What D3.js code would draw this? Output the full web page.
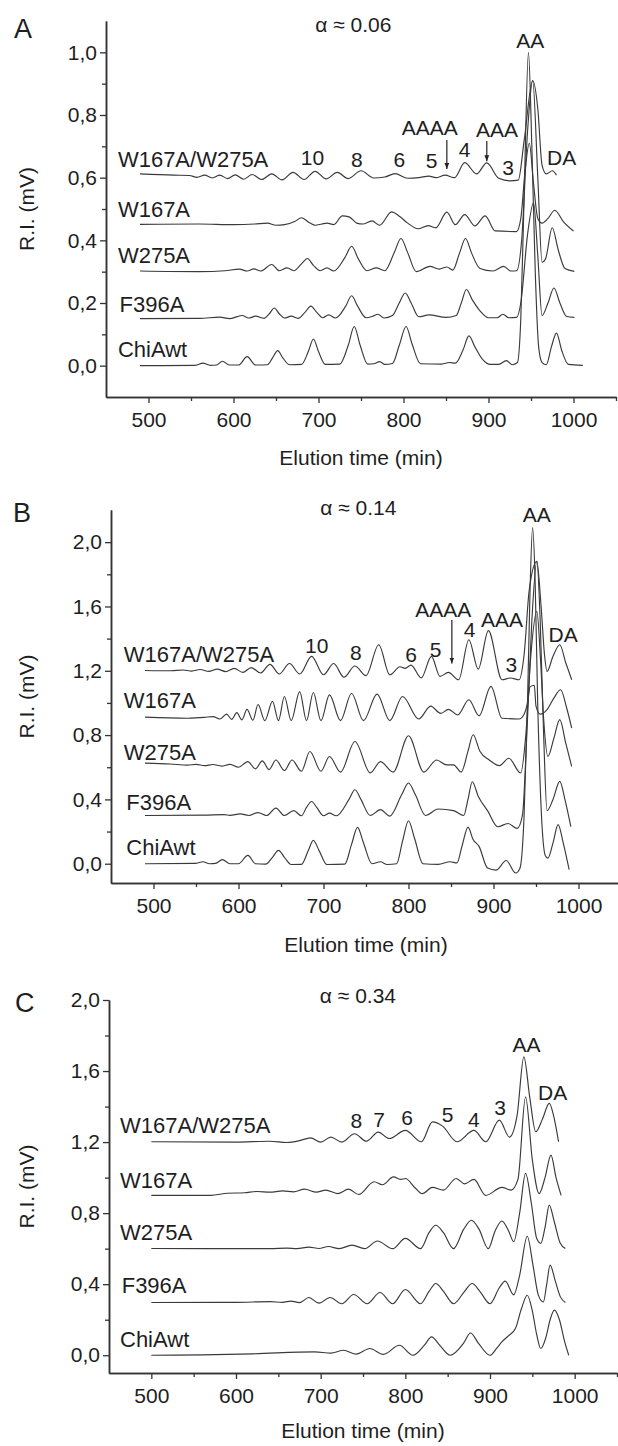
<!DOCTYPE html>
<html><head><meta charset="utf-8">
<script src="https://cdn.jsdelivr.net/npm/d3@7"></script>
<style>
body{margin:0;background:#fff;}
svg text{font-family:"Liberation Sans", Arial, Helvetica, sans-serif; fill:#1e1e1e;}
</style></head><body>
<svg id="chart" width="618" height="1446"></svg>
<script>
// ---------- data (elution time in min, R.I. in mV) ----------
const seriesNames = ["W167A/W275A","W167A","W275A","F396A","ChiAwt"];
const xTicks = [500,600,700,800,900,1000];
const xMinorTicks = [550,650,750,850,950,1050];

// Panel A (alpha ~ 0.06)
const A_W167A_W275A = [[490,0.612],[530,0.608],[548,0.607],[557,0.601],[566,0.608],[575,0.599],[584,0.608],[593,0.597],[602,0.609],[612,0.595],[622,0.61],[633,0.594],[645,0.612],[657,0.593],[670,0.617],[683,0.594],[696,0.62],[709,0.596],[722,0.617],[735,0.597],[750,0.622],[765,0.599],[778,0.602],[790,0.613],[805,0.598],[818,0.6],[830,0.605],[838,0.6],[849,0.608],[860,0.6],[872,0.648],[886,0.612],[898,0.647],[912,0.598],[925,0.59],[935,0.592],[942,0.72],[952,0.91],[958,0.82],[963,0.64],[968,0.612],[975,0.622],[980,0.608]];
const A_W167A = [[490,0.451],[560,0.452],[600,0.45],[625,0.452],[640,0.455],[650,0.448],[660,0.45],[672,0.46],[680,0.472],[690,0.455],[696,0.448],[704,0.452],[710,0.455],[718,0.45],[728,0.478],[736,0.475],[745,0.455],[752,0.452],[763,0.462],[772,0.448],[786,0.491],[796,0.475],[805,0.455],[817,0.437],[829,0.447],[838,0.44],[851,0.49],[861,0.45],[872,0.482],[884,0.446],[896,0.478],[908,0.43],[933,0.428],[938,0.47],[943,0.62],[948,0.71],[953,0.58],[958,0.47],[963,0.455],[970,0.47],[978,0.496],[988,0.46],[1000,0.43]];
const A_W275A = [[490,0.302],[560,0.3],[590,0.303],[607,0.308],[616,0.302],[624,0.309],[632,0.302],[645,0.323],[654,0.303],[663,0.312],[671,0.303],[680,0.325],[687,0.342],[694,0.32],[702,0.303],[710,0.312],[718,0.302],[731,0.345],[739,0.381],[747,0.34],[757,0.303],[768,0.312],[778,0.303],[789,0.36],[797,0.406],[805,0.36],[815,0.3],[831,0.317],[842,0.308],[851,0.315],[858,0.305],[866,0.36],[873,0.406],[880,0.36],[890,0.31],[905,0.302],[918,0.317],[926,0.302],[933,0.303],[939,0.4],[946,0.75],[952,0.91],[958,0.6],[963,0.33],[967,0.34],[975,0.44],[982,0.37],[990,0.31],[1001,0.301]];
const A_F396A = [[490,0.15],[560,0.151],[584,0.155],[595,0.15],[610,0.16],[618,0.152],[626,0.158],[636,0.151],[642,0.165],[648,0.184],[654,0.165],[660,0.152],[668,0.158],[676,0.151],[684,0.17],[691,0.19],[698,0.17],[705,0.153],[712,0.162],[720,0.152],[732,0.19],[739,0.223],[746,0.19],[756,0.153],[763,0.157],[770,0.164],[777,0.152],[787,0.16],[795,0.2],[802,0.232],[809,0.2],[818,0.156],[830,0.162],[850,0.154],[862,0.16],[868,0.2],[874,0.243],[881,0.21],[890,0.175],[900,0.153],[910,0.153],[917,0.164],[924,0.153],[933,0.154],[938,0.2],[946,0.42],[953,0.52],[958,0.35],[963,0.16],[970,0.2],[977,0.248],[984,0.2],[992,0.157],[1001,0.154]];
const A_ChiAwt = [[490,0],[555,0.001],[564,0.008],[573,0.001],[580,0.002],[587,0.014],[595,0.002],[606,0.002],[616,0.029],[626,0.002],[640,0.003],[646,0.025],[652,0.048],[658,0.025],[666,0.003],[680,0.004],[688,0.045],[694,0.085],[700,0.045],[708,0.004],[725,0.005],[735,0.065],[742,0.125],[749,0.065],[758,0.005],[765,0.006],[772,0.013],[778,0.004],[787,0.007],[795,0.065],[803,0.125],[810,0.07],[820,0.006],[845,0.005],[854,0.01],[861,0.008],[870,0.05],[877,0.095],[884,0.06],[893,0.02],[902,0.004],[912,0.004],[921,0.016],[928,0.003],[934,0.01],[938,0.15],[942,0.55],[947,1.0],[951,0.7],[955,0.3],[959,0.06],[963,0.01],[968,0.003],[974,0.06],[980,0.104],[986,0.05],[994,0.004],[1011,0.001]];

// Panel B (alpha ~ 0.14)
const B_W167A_W275A = [[490,1.202],[520,1.2],[535,1.205],[545,1.198],[555,1.208],[565,1.196],[575,1.21],[585,1.195],[595,1.215],[605,1.19],[615,1.22],[626,1.186],[637,1.24],[648,1.18],[660,1.245],[672,1.18],[686,1.29],[700,1.175],[712,1.245],[724,1.16],[737,1.23],[750,1.17],[765,1.362],[778,1.175],[790,1.225],[796,1.215],[803,1.235],[815,1.156],[827,1.29],[837,1.165],[847,1.19],[859,1.144],[871,1.393],[882,1.21],[894,1.45],[910,1.144],[920,1.155],[930,1.144],[936,1.3],[942,1.7],[951,1.88],[956,1.6],[960,1.3],[963,1.196],[970,1.29],[978,1.362],[985,1.25],[992,1.144]];
const B_W167A = [[490,0.912],[540,0.905],[560,0.91],[570,0.915],[578,0.9],[586,0.93],[592,0.898],[598,0.94],[604,0.895],[610,0.96],[617,0.892],[623,0.99],[631,0.89],[640,1.01],[647,0.89],[654,1.04],[662,0.89],[672,1.07],[680,0.89],[688,1.065],[697,0.89],[707,1.05],[720,0.89],[733,1.06],[747,0.89],[763,1.055],[778,0.89],[793,1.04],[812,0.9],[826,0.98],[838,0.935],[847,0.96],[858,0.925],[871,1.02],[883,0.92],[897,1.103],[910,0.905],[930,0.9],[936,0.93],[940,1.0],[943,1.1],[948,1.11],[950,0.98],[955,0.93],[963,0.958],[971,1.03],[979,1.082],[986,0.97],[992,0.844]];
const B_W275A = [[490,0.626],[520,0.62],[540,0.613],[550,0.618],[560,0.61],[570,0.617],[580,0.607],[590,0.618],[600,0.6],[611,0.635],[620,0.59],[628,0.64],[636,0.585],[644,0.645],[654,0.58],[663,0.645],[674,0.575],[684,0.698],[697,0.575],[707,0.667],[720,0.57],[737,0.76],[755,0.565],[767,0.635],[782,0.57],[800,0.796],[818,0.57],[833,0.645],[845,0.615],[853,0.615],[862,0.57],[870,0.7],[876,0.802],[884,0.7],[895,0.645],[907,0.61],[918,0.656],[932,0.564],[938,0.8],[944,1.3],[951,1.57],[955,1.3],[959,0.9],[964,0.667],[971,0.78],[978,0.896],[985,0.75],[992,0.605]];
const B_F396A = [[490,0.3],[560,0.302],[583,0.305],[590,0.301],[602,0.31],[612,0.3],[623,0.318],[633,0.3],[644,0.346],[654,0.3],[665,0.33],[674,0.298],[680,0.35],[686,0.387],[692,0.35],[700,0.298],[707,0.315],[715,0.298],[730,0.4],[737,0.46],[744,0.4],[755,0.3],[767,0.336],[778,0.296],[792,0.43],[800,0.502],[808,0.43],[820,0.3],[835,0.34],[853,0.33],[865,0.3],[870,0.4],[875,0.51],[882,0.42],[893,0.33],[905,0.23],[917,0.25],[928,0.22],[934,0.3],[940,0.9],[945,1.5],[951,1.88],[955,1.5],[959,0.8],[963,0.33],[970,0.4],[978,0.512],[984,0.4],[991,0.23]];
const B_ChiAwt = [[490,0],[550,0.002],[558,0.012],[566,0.0],[573,0.002],[581,0.025],[590,0.0],[600,0.0],[611,0.052],[620,0.0],[632,-0.003],[640,0.04],[647,0.083],[654,0.04],[662,-0.005],[674,-0.004],[682,0.08],[688,0.145],[695,0.08],[704,-0.005],[725,-0.003],[733,0.12],[740,0.226],[747,0.13],[757,0.0],[767,0.012],[775,-0.005],[786,0.0],[793,0.14],[800,0.267],[807,0.16],[817,0.0],[835,-0.004],[849,0.012],[857,0.005],[863,0.11],[870,0.228],[876,0.15],[883,0.108],[893,-0.027],[903,-0.04],[915,0.02],[926,-0.058],[931,-0.03],[936,0.3],[940,1.0],[943,1.7],[946,2.09],[949,1.75],[952,1.0],[956,0.35],[961,0.05],[964,0.035],[970,0.13],[976,0.243],[982,0.13],[989,-0.037]];

// Panel C (alpha ~ 0.34)
const C_W167A_W275A = [[500,1.202],[600,1.2],[640,1.205],[660,1.198],[675,1.208],[688,1.224],[700,1.2],[712,1.228],[725,1.2],[740,1.247],[754,1.205],[768,1.256],[781,1.22],[800,1.266],[819,1.202],[832,1.314],[844,1.29],[861,1.202],[881,1.266],[895,1.202],[911,1.324],[923,1.228],[932,1.35],[940,1.68],[947,1.45],[954,1.258],[962,1.33],[970,1.418],[976,1.33],[981,1.202]];
const C_W167A = [[500,0.9],[570,0.9],[590,0.912],[610,0.915],[625,0.922],[640,0.918],[655,0.925],[668,0.92],[681,0.935],[695,0.918],[706,0.93],[720,0.91],[733,0.935],[745,0.905],[763,0.977],[773,0.96],[786,1.004],[795,0.99],[800,0.995],[812,0.94],[820,0.91],[832,0.945],[845,0.93],[860,0.995],[870,0.965],[881,0.99],[895,0.9],[914,0.945],[925,0.93],[933,0.99],[942,1.455],[950,1.1],[958,0.91],[965,1.0],[972,1.127],[978,1.0],[984,0.9]];
const C_W275A = [[500,0.601],[640,0.6],[660,0.603],[672,0.6],[686,0.609],[698,0.601],[709,0.612],[722,0.6],[737,0.62],[752,0.6],[767,0.643],[785,0.6],[800,0.658],[818,0.6],[828,0.69],[836,0.732],[845,0.69],[857,0.6],[869,0.71],[878,0.76],[887,0.71],[898,0.6],[906,0.7],[914,0.756],[922,0.7],[928,0.639],[935,0.8],[942,1.024],[949,0.85],[955,0.66],[960,0.63],[965,0.72],[970,0.845],[976,0.75],[983,0.63],[989,0.601]];
const C_F396A = [[500,0.297],[600,0.298],[640,0.302],[655,0.298],[665,0.305],[675,0.296],[686,0.325],[698,0.293],[711,0.325],[725,0.29],[739,0.342],[755,0.29],[770,0.353],[785,0.29],[800,0.37],[818,0.29],[828,0.36],[836,0.404],[845,0.36],[857,0.29],[870,0.36],[879,0.404],[888,0.36],[900,0.29],[911,0.38],[918,0.417],[928,0.34],[935,0.45],[944,0.67],[951,0.5],[957,0.34],[963,0.3],[967,0.4],[971,0.507],[977,0.42],[983,0.33],[989,0.297]];
const C_ChiAwt = [[500,0],[560,0.002],[620,0.008],[693,0.019],[712,0.012],[727,0.028],[742,0.006],[758,0.038],[774,0.005],[793,0.056],[809,0.0],[823,0.06],[831,0.103],[840,0.06],[853,0.0],[869,0.07],[877,0.125],[886,0.07],[900,0.0],[908,0.04],[914,0.075],[922,0.11],[930,0.15],[937,0.26],[944,0.338],[950,0.25],[955,0.12],[960,0.038],[966,0.1],[971,0.2],[976,0.254],[982,0.2],[988,0.08],[993,0.0]];

// Series-label anchors (t, mV) per panel, in seriesNames order
const A_seriesAt = [[464,0.634],[464,0.475],[464,0.328],[466,0.171],[464,0.028]];
const B_seriesAt = [[465,1.254],[465,0.968],[465,0.645],[468,0.334],[468,0.054]];
const C_seriesAt = [[463,1.25],[463,0.94],[463,0.648],[465,0.349],[463,0.045]];

// Peak annotations (text, t, mV)
const A_notes = [["α ≈ 0.06",741,1.065],["AA",949,1.014],["AAAA",831,0.736],["AAA",910,0.73],["4",872,0.666],["3",923,0.609],["5",833,0.631],["6",795,0.634],["8",745,0.634],["10",693,0.64],["DA",986,0.64]];
const A_arrows = [[851,0.72,0.628],[898,0.717,0.652]];
const B_notes = [["α ≈ 0.14",741,2.168],["AA",951,2.125],["AAAA",841,1.534],["AAA",910,1.472],["4",872,1.41],["5",832,1.285],["6",803,1.254],["3",921,1.192],["DA",982,1.379],["10",692,1.31],["8",738,1.267]];
const B_arrows = [[851,1.516,1.245]];
const C_notes = [["α ≈ 0.34",744,1.982],["AA",943,1.706],["DA",974,1.436],["3",912,1.351],["4",881,1.284],["5",850,1.312],["6",802,1.295],["7",769,1.284],["8",742,1.278]];
const C_arrows = [];

const A_yMajor = [0,0.2,0.4,0.6,0.8,1.0], A_yMinor = [0.1,0.3,0.5,0.7,0.9];
const B_yMajor = [0,0.4,0.8,1.2,1.6,2.0], B_yMinor = [0.2,0.6,1.0,1.4,1.8];
const C_yMajor = [0,0.4,0.8,1.2,1.6,2.0], C_yMinor = [0.2,0.6,1.0,1.4,1.8];

// ---------- layout ----------
const panels = [
  {letter:"A", series:[A_W167A_W275A,A_W167A,A_W275A,A_F396A,A_ChiAwt], seriesAt:A_seriesAt, notes:A_notes, arrows:A_arrows,
   yDomain:[-0.1,1.1], xRange:[106,616], yRange:[397,21], yMajor:A_yMajor, yMinor:A_yMinor, letterXY:[14,38], xTitleY:465},
  {letter:"B", series:[B_W167A_W275A,B_W167A,B_W275A,B_F396A,B_ChiAwt], seriesAt:B_seriesAt, notes:B_notes, arrows:B_arrows,
   yDomain:[-0.12,2.2], xRange:[111,621], yRange:[883,510], yMajor:B_yMajor, yMinor:B_yMinor, letterXY:[13,522], xTitleY:952},
  {letter:"C", series:[C_W167A_W275A,C_W167A,C_W275A,C_F396A,C_ChiAwt], seriesAt:C_seriesAt, notes:C_notes, arrows:C_arrows,
   yDomain:[-0.1,2.0], xRange:[109,617], yRange:[1373,1000], yMajor:C_yMajor, yMinor:C_yMinor, letterXY:[15,1012], xTitleY:1438}
];

const svg = d3.select("#chart");
svg.append("defs").append("marker").attr("id","arr").attr("viewBox","0 0 10 10")
  .attr("refX",10).attr("refY",5).attr("markerWidth",6).attr("markerHeight",7)
  .attr("markerUnits","userSpaceOnUse").attr("orient","auto")
  .append("path").attr("d","M0,1 L10,5 L0,9 z").attr("fill","#222");

const fmt = d => d3.format(".1f")(d).replace(".", ",");
const INK = "#333";

panels.forEach(p => {
  const x = d3.scaleLinear().domain([450,1050]).range(p.xRange);
  const y = d3.scaleLinear().domain(p.yDomain).range(p.yRange);
  const g = svg.append("g");
  const x0 = p.xRange[0], yb = p.yRange[0];

  // axes
  const ax = g.append("g").attr("transform",`translate(${x0},0)`)
    .call(d3.axisLeft(y).tickValues(p.yMajor).tickSize(6).tickSizeOuter(0).tickPadding(3).tickFormat(fmt));
  g.append("g").attr("transform",`translate(${x0},0)`)
    .call(d3.axisLeft(y).tickValues(p.yMinor).tickSize(4).tickSizeOuter(0).tickFormat(""));
  const bx = g.append("g").attr("transform",`translate(0,${yb})`)
    .call(d3.axisBottom(x).tickValues(xTicks).tickSize(6).tickSizeOuter(0).tickPadding(9).tickFormat(d3.format("d")));
  g.append("g").attr("transform",`translate(0,${yb})`)
    .call(d3.axisBottom(x).tickValues(xMinorTicks).tickSize(4).tickSizeOuter(0).tickFormat(""));
  g.selectAll(".domain").attr("stroke",INK).attr("stroke-width",1.5);
  g.selectAll(".tick line").attr("stroke",INK).attr("stroke-width",1.3);
  g.selectAll(".tick text").attr("font-size",21).attr("fill","#1e1e1e")
    .style("font-family",'"Liberation Sans", Arial, sans-serif');

  // traces
  const line = d3.line().x(d => x(d[0])).y(d => y(d[1])).curve(d3.curveMonotoneX);
  g.selectAll("path.trace").data(p.series).join("path").attr("class","trace")
    .attr("d", line).attr("fill","none").attr("stroke","#3a3a3a").attr("stroke-width",1.15);

  // series labels
  g.selectAll("text.sname").data(seriesNames).join("text").attr("class","sname")
    .attr("x",(d,i)=>x(p.seriesAt[i][0])).attr("y",(d,i)=>y(p.seriesAt[i][1]))
    .attr("font-size",22).text(d=>d);

  // peak notes
  g.selectAll("text.note").data(p.notes).join("text").attr("class","note")
    .attr("x",d=>x(d[1])).attr("y",d=>y(d[2])).attr("text-anchor","middle")
    .attr("font-size",21).text(d=>d[0]);

  // arrows
  g.selectAll("line.arrow").data(p.arrows).join("line").attr("class","arrow")
    .attr("x1",d=>x(d[0])).attr("x2",d=>x(d[0])).attr("y1",d=>y(d[1])).attr("y2",d=>y(d[2]))
    .attr("stroke","#222").attr("stroke-width",1.2).attr("marker-end","url(#arr)");

  // panel letter
  g.append("text").attr("x",p.letterXY[0]).attr("y",p.letterXY[1]).attr("font-size",27).text(p.letter);

  // axis titles
  g.append("text").attr("x",x(750)).attr("y",p.xTitleY).attr("text-anchor","middle").attr("font-size",21)
    .text("Elution time (min)");
  const ym = (p.yRange[0]+p.yRange[1])/2;
  g.append("text").attr("transform",`translate(34,${ym}) rotate(-90)`).attr("text-anchor","middle")
    .attr("font-size",21).text("R.I. (mV)");
});
</script>
</body></html>
